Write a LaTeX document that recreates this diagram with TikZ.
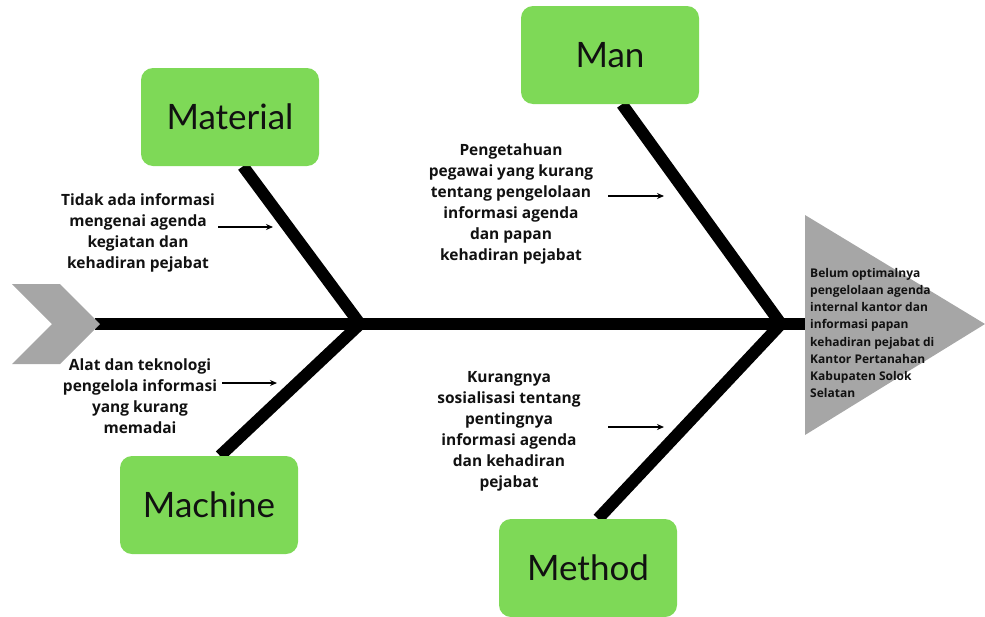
\documentclass[tikz,border=0pt]{standalone}
\usepackage{fontspec}
\setmainfont{Open Sans}
\newfontfamily\labelfont{Lato}
\usetikzlibrary{arrows.meta,positioning,backgrounds}

\definecolor{boxgreen}{HTML}{7ED957}
\definecolor{headgray}{HTML}{A6A6A6}
\definecolor{inkblack}{HTML}{111111}

\tikzset{
  catbox/.style={rectangle, rounded corners=12pt, fill=boxgreen, draw=none,
    minimum width=178pt, minimum height=98pt, text=inkblack,
    font=\labelfont\fontsize{35}{40}\selectfont},
  cause/.style={align=center, text=inkblack, font=\bfseries\fontsize{15.5}{21}\selectfont},
  bone/.style={line width=12pt, black},
  pointer/.style={line width=1.4pt, -{Stealth[length=7pt,width=6pt]}},
}

\begin{document}
\begin{tikzpicture}[x=1pt,y=-1pt]
  % bounding box of the reference
  \useasboundingbox (0,0) rectangle (985,616);

  % 1. kategori (kotak hijau)
  \node [catbox] (material) at (230,117) {Material};
  \node [catbox] (man) at (610,55) {Man};
  \node [catbox] (machine) at (209,505) {Machine};
  \node [catbox] (method) at (588,568) {Method};

  % 2. kepala dan ekor ikan
  \fill [headgray] (805,215) -- (985,324) -- (805,435) -- cycle;
  \coordinate (head) at (806,324);
  \fill [headgray] (12,284) -- (60,284) -- (100,324) -- (60,364) -- (12,364) -- (52,324) -- cycle;
  \coordinate (tail) at (95,324);

  % titik temu tulang dengan tulang utama
  \coordinate (j1) at (360,324);
  \coordinate (j2) at (781,324);

  % 3. tulang
  \begin{scope}[on background layer]
    \draw [bone] (tail) -- (head);
    \draw [bone] ([xshift=13pt]material.south) -- (j1);
    \draw [bone] ([xshift=11pt]machine.north) -- (j1);
    \draw [bone] ([xshift=12pt]man.south) -- (j2);
    \draw [bone] ([xshift=10pt]method.north) -- (j2);
  \end{scope}

  % 4. penyebab
  \node [cause] (c1) at (138,233) {Tidak ada informasi\\mengenai agenda\\kegiatan dan\\kehadiran pejabat};
  \node [cause] (c2) at (140,396) {Alat dan teknologi\\pengelola informasi\\yang kurang\\memadai};
  \node [cause] (c3) at (511,204) {Pengetahuan\\pegawai yang kurang\\tentang pengelolaan\\informasi agenda\\dan papan\\kehadiran pejabat};
  \node [cause] (c4) at (509,431) {Kurangnya\\sosialisasi tentang\\pentingnya\\informasi agenda\\dan kehadiran\\pejabat};

  % panah kecil
  \coordinate (s1) at (218,227); \coordinate (p1) at (273,227);
  \coordinate (s2) at (222,383); \coordinate (p2) at (277,383);
  \coordinate (s3) at (608,196); \coordinate (p3) at (664,196);
  \coordinate (s4) at (608,427); \coordinate (p4) at (664,427);
  \foreach \i in {1,...,4}
    \draw [pointer] (s\i) -- (p\i);

  % 5. akibat
  \node [anchor=north west, align=left, text=inkblack, inner sep=0pt,
    font=\bfseries\fontsize{12}{17.2}\selectfont] (effect) at (810,268)
    {Belum optimalnya\\pengelolaan agenda\\internal kantor dan\\informasi papan\\kehadiran pejabat di\\Kantor Pertanahan\\Kabupaten Solok\\Selatan};
\end{tikzpicture}
\end{document}
